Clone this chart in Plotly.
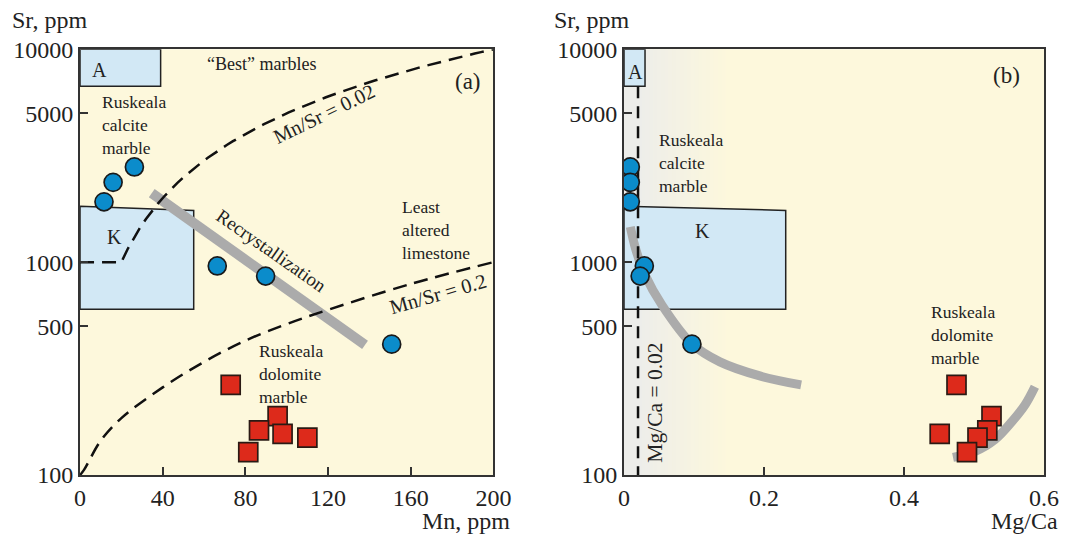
import plotly.graph_objects as go

# ---- data -----------------------------------------------------------------
# Sr contents shared by both panels (ppm)
calcite_sr = [2800, 2370, 1920, 960, 860, 412]
calcite_mn = [26.3, 16.0, 11.6, 66.4, 89.8, 150.8]
calcite_mgca = [0.009, 0.009, 0.009, 0.029, 0.023, 0.097]

dolomite_sr = [265, 189, 162, 156, 150, 128]
dolomite_mn = [72.9, 95.6, 86.6, 98.0, 110.0, 81.4]
dolomite_mgca = [0.475, 0.525, 0.519, 0.451, 0.505, 0.490]

# field boxes: A ("best" marbles) and K
box_a_sr = [6700, 10000]
box_a_mn = [0, 39]
box_a_mgca = [0, 0.03]
box_k_sr_top = [1830, 1750]
box_k_sr_bottom = 600
box_k_mn = [0, 55]
box_k_mgca = [0, 0.231]

# Mn/Sr reference lines
mn_sr_high = 0.02
sr_base = 1000
mn_sr_low_mn = [0, 2, 10, 20, 40, 60, 80, 100, 120, 160, 200]
mn_sr_low_sr = [100, 106, 145, 185, 258, 340, 428, 512, 597, 790, 1000]

# recrystallization trends
recryst_mn = [34.7, 137.9]
recryst_sr = [2109, 409]
trend_calc_mgca = [0.009, 0.017, 0.030, 0.054, 0.097, 0.137, 0.194, 0.253]
trend_calc_sr = [1465, 1142, 871, 630, 413, 340, 292, 265]
trend_dol_mgca = [0.470, 0.501, 0.530, 0.554, 0.573, 0.587]
trend_dol_sr = [121, 129, 147, 178, 214, 260]

mg_ca_limit = 0.02

sr_ticks = [100, 500, 1000, 5000, 10000]
mn_ticks = [0, 40, 80, 120, 160, 200]
mgca_ticks = [0, 0.2, 0.4, 0.6]
mgca_ticktext = ["0", "0.2", "0.4", "0.6"]

# ---- styling --------------------------------------------------------------
SERIF = "Liberation Serif"
INK = "#222222"
CREAM = "#fdf8dc"
BOXBLUE = "#d2e8f5"
GREY = "#ababab"
BLUE = "#0b8ccb"
RED = "#dd2a1b"

fig = go.Figure()


def add_poly(xs, ys, xa, ya):
    fig.add_trace(go.Scatter(x=xs, y=ys, xaxis=xa, yaxis=ya, mode="lines",
                             fill="toself", fillcolor=BOXBLUE,
                             line=dict(color=INK, width=1.5),
                             hoverinfo="skip", showlegend=False))


# panel (a) boxes
add_poly([box_a_mn[0], box_a_mn[1], box_a_mn[1], box_a_mn[0], box_a_mn[0]],
         [box_a_sr[0], box_a_sr[0], box_a_sr[1], box_a_sr[1], box_a_sr[0]], "x", "y")
add_poly([box_k_mn[0], box_k_mn[1], box_k_mn[1], box_k_mn[0], box_k_mn[0]],
         [box_k_sr_top[0], box_k_sr_top[1], box_k_sr_bottom, box_k_sr_bottom, box_k_sr_top[0]], "x", "y")
# panel (b) boxes
add_poly([box_a_mgca[0], box_a_mgca[1], box_a_mgca[1], box_a_mgca[0], box_a_mgca[0]],
         [box_a_sr[0], box_a_sr[0], box_a_sr[1], box_a_sr[1], box_a_sr[0]], "x2", "y2")
add_poly([box_k_mgca[0], box_k_mgca[1], box_k_mgca[1], box_k_mgca[0], box_k_mgca[0]],
         [box_k_sr_top[0], box_k_sr_top[1], box_k_sr_bottom, box_k_sr_bottom, box_k_sr_top[0]], "x2", "y2")

# grey trend bands
fig.add_trace(go.Scatter(x=recryst_mn, y=recryst_sr, mode="lines",
                         line=dict(color=GREY, width=10), hoverinfo="skip", showlegend=False))
fig.add_trace(go.Scatter(x=trend_calc_mgca, y=trend_calc_sr, xaxis="x2", yaxis="y2", mode="lines",
                         line=dict(color=GREY, width=9, shape="spline"), hoverinfo="skip", showlegend=False))
fig.add_trace(go.Scatter(x=trend_dol_mgca, y=trend_dol_sr, xaxis="x2", yaxis="y2", mode="lines",
                         line=dict(color=GREY, width=9, shape="spline"), hoverinfo="skip", showlegend=False))

# Mn/Sr = 0.02 : flat at base Sr, then Sr = Mn / ratio
hi_mn = [0] + [sr_base * mn_sr_high + i * (200 - sr_base * mn_sr_high) / 60 for i in range(61)]
hi_sr = [sr_base] + [m / mn_sr_high for m in hi_mn[1:]]
dash = "14px,8px"
fig.add_trace(go.Scatter(x=hi_mn, y=hi_sr, mode="lines",
                         line=dict(color="#111111", width=2.5, dash=dash), hoverinfo="skip", showlegend=False))
fig.add_trace(go.Scatter(x=mn_sr_low_mn, y=mn_sr_low_sr, mode="lines",
                         line=dict(color="#111111", width=2.5, dash=dash, shape="spline"),
                         hoverinfo="skip", showlegend=False))
# Mg/Ca = 0.02
fig.add_trace(go.Scatter(x=[mg_ca_limit, mg_ca_limit], y=[box_a_sr[0], 100], xaxis="x2", yaxis="y2",
                         mode="lines", line=dict(color="#111111", width=2.5, dash="12px,8px"),
                         hoverinfo="skip", showlegend=False))

# samples
circ = dict(symbol="circle", size=18, color=BLUE, line=dict(color="#1a1a1a", width=1.7))
sq = dict(symbol="square", size=19, color=RED, line=dict(color="#2a1a14", width=1.7))
fig.add_trace(go.Scatter(x=calcite_mn, y=calcite_sr, mode="markers", marker=circ,
                         name="Ruskeala calcite marble", showlegend=False))
fig.add_trace(go.Scatter(x=dolomite_mn, y=dolomite_sr, mode="markers", marker=sq,
                         name="Ruskeala dolomite marble", showlegend=False))
fig.add_trace(go.Scatter(x=calcite_mgca, y=calcite_sr, xaxis="x2", yaxis="y2", mode="markers",
                         marker=circ, showlegend=False))
fig.add_trace(go.Scatter(x=dolomite_mgca, y=dolomite_sr, xaxis="x2", yaxis="y2", mode="markers",
                         marker=sq, showlegend=False))

# grey-to-cream fade near Mg/Ca = 0 in panel (b)
def mix(c1, c2, t):
    a = [int(c1[i:i + 2], 16) for i in (1, 3, 5)]
    b = [int(c2[i:i + 2], 16) for i in (1, 3, 5)]
    return "#" + "".join(f"{round(a[k] + (b[k] - a[k]) * t):02x}" for k in range(3))


shapes = [dict(type="rect", xref="x2", yref="y2 domain", x0=0, x1=mg_ca_limit, y0=0, y1=1,
               fillcolor="#ededea", line=dict(width=0), layer="below")]
n_band = 24
fade_end = 0.15
for i in range(n_band):
    x0 = mg_ca_limit + (fade_end - mg_ca_limit) * i / n_band
    x1 = mg_ca_limit + (fade_end - mg_ca_limit) * (i + 1) / n_band
    shapes.append(dict(type="rect", xref="x2", yref="y2 domain", x0=x0, x1=x1 + 0.001, y0=0, y1=1,
                       fillcolor=mix("#ededea", CREAM, (i + 0.5) / n_band),
                       line=dict(width=0), layer="below"))

# ---- axes -----------------------------------------------------------------
tickfont = dict(family=SERIF, size=24, color=INK)
common = dict(showline=True, mirror=True, linecolor="#333333", linewidth=2, showgrid=False,
              zeroline=False, ticks="inside", ticklen=8, tickwidth=1.5, tickcolor="#333333",
              tickfont=tickfont, automargin=False)
ydom = [0.1121, 0.9079]
fig.update_layout(
    width=1070, height=535, margin=dict(l=0, r=0, t=0, b=0, autoexpand=False),
    paper_bgcolor="white", plot_bgcolor=CREAM,
    font=dict(family=SERIF, color=INK),
    shapes=shapes,
    xaxis=dict(domain=[0.0748, 0.4611], range=[0, 200], tickvals=mn_ticks, anchor="y", **common),
    yaxis=dict(domain=ydom, type="log", range=[2, 4], tickvals=sr_ticks,
               ticktext=[str(v) for v in sr_ticks], anchor="x", **common),
    xaxis2=dict(domain=[0.5832, 0.9757], range=[0, 0.6], tickvals=mgca_ticks,
                ticktext=mgca_ticktext, anchor="y2", **common),
    yaxis2=dict(domain=ydom, type="log", range=[2, 4], tickvals=sr_ticks,
                ticktext=[str(v) for v in sr_ticks], anchor="x2", **common),
)

# ---- labels ---------------------------------------------------------------
def note(text, x, y, xa="x", ya="y", size=17.5, xanchor="center", angle=0, yanchor="middle"):
    fig.add_annotation(text=text, x=x, y=y, xref=xa, yref=ya, showarrow=False,
                       xanchor=xanchor, yanchor=yanchor, textangle=angle, align="left",
                       font=dict(family=SERIF, size=size, color=INK))


note("A", 9.2, 3.903, size=20)
note("“Best” marbles", 87.9, 3.931, size=18)
note("(a)", 187.7, 3.848, size=23)
note("Ruskeala<br>calcite<br>marble", 9.7, 3.644, xanchor="left")
note("K", 16.9, 3.119, size=20)
note("Recrystallization", 92.5, 3.055, angle=35, size=19)
note(f"Mn/Sr = {mn_sr_high}", 118, 3.696, angle=-26, size=20.5)
note("Least<br>altered<br>limestone", 154.8, 3.152, xanchor="left")
note("Mn/Sr = 0.2", 173.2, 2.851, angle=-16, size=20.5)
note("Ruskeala<br>dolomite<br>marble", 85.5, 2.476, xanchor="left")

note("A", 0.0167, 3.895, "x2", "y2", size=20)
note("(b)", 0.547, 3.875, "x2", "y2", size=23)
note("K", 0.112, 3.147, "x2", "y2", size=20)
note("Ruskeala<br>calcite<br>marble", 0.0476, 3.465, "x2", "y2", xanchor="left")
note("Ruskeala<br>dolomite<br>marble", 0.4357, 2.659, "x2", "y2", xanchor="left")
note(f"Mg/Ca = {mg_ca_limit}", 0.0443, 2.34, "x2", "y2", angle=-90, size=21.5)

# axis titles
def title(text, xpx, ypx, xanchor, yanchor="middle"):
    fig.add_annotation(text=text, x=xpx / 1070, y=1 - ypx / 535, xref="paper", yref="paper",
                       showarrow=False, xanchor=xanchor, yanchor=yanchor,
                       font=dict(family=SERIF, size=24, color=INK))


title("Sr, ppm", 10, 20, "left")
title("Sr, ppm", 552, 20, "left")
title("Mn, ppm", 512, 536, "right", "bottom")
title("Mg/Ca", 1060, 536, "right", "bottom")

fig.write_html("out.html")
